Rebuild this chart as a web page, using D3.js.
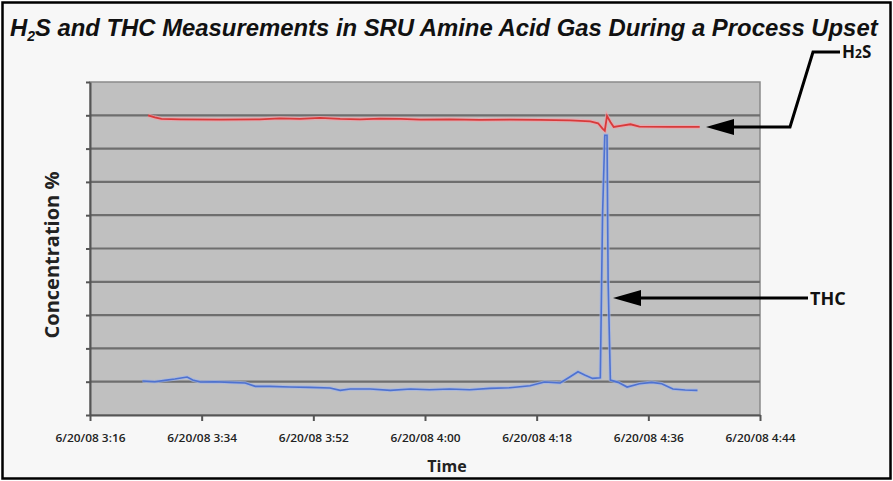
<!DOCTYPE html>
<html><head><meta charset="utf-8">
<script src="https://cdn.jsdelivr.net/npm/d3@7/dist/d3.min.js"></script>
<style>html,body{margin:0;padding:0;background:#fff;}svg{display:block;}</style>
</head><body>
<script>
// ---- data ----
const tickLabels = ["6/20/08 3:16","6/20/08 3:34","6/20/08 3:52","6/20/08 4:00","6/20/08 4:18","6/20/08 4:36","6/20/08 4:44"];
// x in tick-position units (0 = first label, 6 = last label)
const h2sX = [0.52,0.58,0.64,0.81,1.16,1.52,1.70,1.88,2.06,2.24,2.42,2.60,2.78,2.96,3.22,3.49,3.76,4.03,4.30,4.48,4.55,4.59,4.61,4.63,4.66,4.69,4.75,4.84,4.92,5.19,5.46];
const h2sY = [90.0,89.4,88.9,88.8,88.7,88.8,89.1,88.9,89.2,88.9,88.8,89.0,88.9,88.7,88.8,88.6,88.7,88.6,88.5,88.2,87.6,86.0,85.4,89.8,88.0,86.5,86.8,87.3,86.6,86.5,86.5];
const thcX = [0.47,0.58,0.67,0.76,0.87,0.92,0.99,1.12,1.25,1.39,1.48,1.61,1.79,1.97,2.15,2.24,2.33,2.51,2.69,2.87,3.04,3.22,3.40,3.58,3.76,3.94,4.07,4.21,4.30,4.37,4.43,4.50,4.57,4.59,4.61,4.63,4.64,4.66,4.73,4.81,4.92,5.03,5.12,5.22,5.33,5.44];
const thcY = [10.2,10.0,10.4,10.8,11.4,10.5,9.9,10.0,9.8,9.6,8.6,8.6,8.4,8.3,8.1,7.4,7.8,7.8,7.4,7.8,7.6,7.8,7.6,8.0,8.2,8.8,9.9,9.6,11.5,13.0,12.0,11.0,11.2,60,84,84,40,10.5,9.8,8.4,9.4,9.8,9.4,7.8,7.5,7.4];
const yTicks = [0,10,20,30,40,50,60,70,80,90,100];
const titleMain = "S and THC Measurements in SRU Amine Acid Gas During a Process Upset";

const W = 893, H = 481;
const svg = d3.select("body").append("svg").attr("width", W).attr("height", H);

// frame
svg.append("rect").attr("x",0).attr("y",0).attr("width",W).attr("height",H).attr("fill","#ffffff");
svg.append("rect").attr("x",2.5).attr("y",2.5).attr("width",W-5).attr("height",H-5)
  .attr("fill","#f7f7f7").attr("stroke","#000").attr("stroke-width",2.5);

// title
const title = svg.append("text").attr("x",0).attr("y",0)
  .attr("font-family","'Liberation Sans Narrow','Liberation Sans',Arial,sans-serif")
  .attr("font-weight","bold").attr("font-style","italic").attr("font-size",24).attr("fill","#111");
title.append("tspan").text("H");
title.append("tspan").attr("font-size",14).attr("dy",5).text("2");
title.append("tspan").attr("dy",-5).text(titleMain);
const tw = title.node().getComputedTextLength();
title.attr("transform", `translate(10,36) scale(${868/tw},1)`);

// plot
const L = 90, R = 760, T = 82, B = 415;
const x = d3.scaleLinear().domain([0,6]).range([L,R]);
const y = d3.scaleLinear().domain([0,100]).range([B,T]);

svg.append("rect").attr("x",L).attr("y",T).attr("width",R-L).attr("height",B-T)
  .attr("fill","#c0c0c0").attr("stroke","#8a8a8a").attr("stroke-width",1.5);

svg.append("g").selectAll("line").data(yTicks.filter(d=>d>0&&d<100)).join("line")
  .attr("x1",L).attr("x2",R).attr("y1",d=>y(d)).attr("y2",d=>y(d))
  .attr("stroke","#6e6e6e").attr("stroke-width",2.2);

// axes
const yAxis = d3.axisLeft(y).tickValues(yTicks).tickFormat("").tickSizeInner(4).tickSizeOuter(0);
const gy = svg.append("g").attr("transform",`translate(${L},0)`).call(yAxis);
gy.selectAll("path,line").attr("stroke","#555").attr("stroke-width",2);

const xAxis = d3.axisBottom(x).tickValues(d3.range(7)).tickFormat(i=>tickLabels[i]).tickSizeInner(6).tickSizeOuter(0).tickPadding(14);
const gx = svg.append("g").attr("transform",`translate(0,${B})`).call(xAxis);
gx.selectAll("path,line").attr("stroke","#555").attr("stroke-width",2);
gx.selectAll("text").attr("font-family","'Open Sans',sans-serif").attr("font-size",10.5)
  .attr("font-weight",600).attr("fill","#222").attr("textLength",70).attr("lengthAdjust","spacingAndGlyphs");

// lines
const line = d3.line().x(d=>x(d[0])).y(d=>y(d[1]));
const h2s = h2sX.map((v,i)=>[v,h2sY[i]]);
const thc = thcX.map((v,i)=>[v,thcY[i]]);
svg.append("path").datum(h2s).attr("d",line).attr("fill","none").attr("stroke","#f0a0a8").attr("stroke-width",4).attr("opacity",0.7);
svg.append("path").datum(h2s).attr("d",line).attr("fill","none").attr("stroke","#d83a3a").attr("stroke-width",1.8);
svg.append("path").datum(thc).attr("d",line).attr("fill","none").attr("stroke","#9fb3e8").attr("stroke-width",3.5).attr("opacity",0.7);
svg.append("path").datum(thc).attr("d",line).attr("fill","none").attr("stroke","#4e72d0").attr("stroke-width",1.6);

// axis titles
svg.append("text").attr("transform","translate(59,255) rotate(-90)").attr("text-anchor","middle")
  .attr("font-family","'Open Sans',sans-serif").attr("font-weight","bold").attr("font-size",20).attr("fill","#222")
  .text("Concentration %");
svg.append("text").attr("x",447).attr("y",472).attr("text-anchor","middle")
  .attr("font-family","'Open Sans',sans-serif").attr("font-weight","bold").attr("font-size",16).attr("fill","#222")
  .text("Time");

// annotations
const ann = svg.append("g").attr("fill","none").attr("stroke","#000").attr("stroke-width",3);
ann.append("path").attr("d","M840,52 L813,52 L790,127 L722,127");
ann.append("path").attr("d","M808,298 L625,298");
svg.append("path").attr("d","M706,127 L734,119 L734,135 Z").attr("fill","#000");
svg.append("path").attr("d","M613,298 L641,290 L641,306 Z").attr("fill","#000");
const h2sLbl = svg.append("text").attr("x",842).attr("y",58).attr("font-family","'Open Sans',sans-serif").attr("font-weight","bold")
  .attr("font-size",17).attr("fill","#111");
h2sLbl.append("tspan").text("H");
h2sLbl.append("tspan").attr("font-size",12).text("2");
h2sLbl.append("tspan").text("S");
svg.append("text").attr("x",810).attr("y",305).attr("font-family","'Open Sans',sans-serif").attr("font-weight","bold")
  .attr("font-size",18).attr("fill","#111").text("THC");
</script>
</body></html>
